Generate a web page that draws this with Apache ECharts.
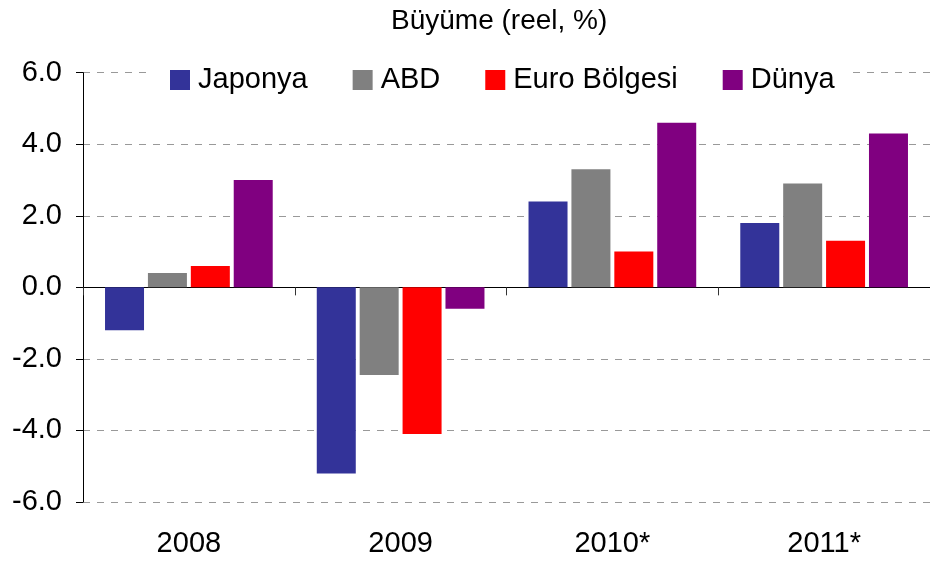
<!DOCTYPE html>
<html>
<head>
<meta charset="utf-8">
<script src="https://cdn.jsdelivr.net/npm/echarts@6/dist/echarts.min.js"></script>
<style>
html,body{margin:0;padding:0;background:#fff;}
#chart{width:930px;height:561px;}
</style>
</head>
<body>
<div id="chart"></div>
<script>
var categories = ['2008', '2009', '2010*', '2011*'];
var seriesNames = ['Japonya', 'ABD', 'Euro Bölgesi', 'Dünya'];
var japonya = [-1.2, -5.2, 2.4, 1.8];
var abd = [0.4, -2.45, 3.3, 2.9];
var euro = [0.6, -4.1, 1.0, 1.3];
var dunya = [3.0, -0.6, 4.6, 4.3];
var colors = ['#333399', '#808080', '#FF0000', '#800080'];
var titleText = 'Büyüme (reel, %)';

var FONT = '"Liberation Sans", Arial, sans-serif';
var chart = echarts.init(document.getElementById('chart'), null, {renderer: 'canvas'});
var values = [japonya, abd, euro, dunya];

chart.setOption({
  animation: false,
  backgroundColor: '#fff',
  textStyle: {fontFamily: FONT},
  title: {
    text: titleText,
    left: 386, top: 2,
    textStyle: {fontFamily: FONT, fontSize: 28, fontWeight: 'normal', color: '#000'}
  },
  legend: {
    data: seriesNames,
    left: 146, top: 61,
    icon: 'rect',
    itemWidth: 20, itemHeight: 20,
    itemGap: 45,
    padding: [4, 16, 4, 24],
    backgroundColor: '#fff',
    textStyle: {fontFamily: FONT, fontSize: 29, color: '#000', lineHeight: 30, padding: [0, 0, 0, 3]},
    z: 10
  },
  grid: {left: 83, top: 72.7, width: 852, height: 429.3, containLabel: false},
  xAxis: [{
    type: 'category',
    data: categories,
    position: 'bottom',
    axisLine: {show: false, onZero: false},
    axisTick: {show: false},
    axisLabel: {fontFamily: FONT, fontSize: 29, color: '#000', margin: 27},
    splitLine: {show: false}
  }, {
    type: 'category',
    data: categories,
    position: 'bottom',
    axisLine: {show: true, onZero: true, lineStyle: {color: '#000', width: 1.2}},
    axisTick: {show: true, length: 8, lineStyle: {color: '#333', width: 1}},
    axisLabel: {show: false},
    splitLine: {show: false}
  }],
  yAxis: {
    type: 'value',
    min: -6, max: 6, interval: 2,
    axisLine: {show: true, lineStyle: {color: '#000', width: 1}},
    axisTick: {show: true, length: 7, lineStyle: {color: '#000'}},
    axisLabel: {
      fontFamily: FONT, fontSize: 29, color: '#000', margin: 21,
      formatter: function (v) { return v.toFixed(1); }
    },
    splitLine: {show: true, lineStyle: {color: '#999', type: [7, 7], width: 1}}
  },
  series: seriesNames.map(function (n, i) {
    return {
      name: n,
      type: 'bar',
      xAxisIndex: 0,
      data: values[i],
      barWidth: 39,
      barGap: '10%',
      itemStyle: {color: colors[i]}
    };
  })
});
</script>
</body>
</html>
